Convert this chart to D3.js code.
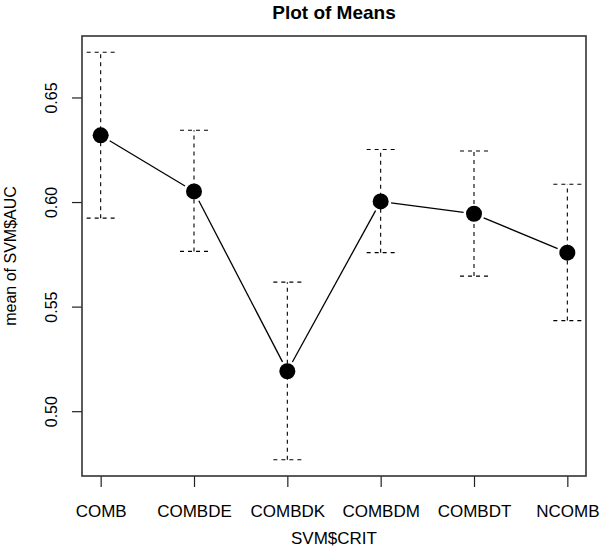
<!DOCTYPE html>
<html>
<head>
<meta charset="utf-8">
<script src="https://cdn.jsdelivr.net/npm/d3@7"></script>
<style>
  html, body { margin: 0; padding: 0; background: #fff; }
  svg { display: block; font-family: "Liberation Sans", Arial, Helvetica, sans-serif; }
</style>
</head>
<body>
<svg id="chart" width="600" height="551"></svg>
<script>
const categories = ["COMB", "COMBDE", "COMBDK", "COMBDM", "COMBDT", "NCOMB"];
const means      = [0.6319, 0.6051, 0.5191, 0.6003, 0.5944, 0.5758];
const upper      = [0.6716, 0.6343, 0.5617, 0.6251, 0.6244, 0.6085];
const lower      = [0.5923, 0.5764, 0.4768, 0.5758, 0.5646, 0.5433];
const yTicks     = [0.50, 0.55, 0.60, 0.65];
const title = "Plot of Means";
const xTitle = "SVM$CRIT";
const yTitle = "mean of SVM$AUC";

const svg = d3.select("#chart");
const plot = { left: 82, right: 586, top: 36, bottom: 476 };

// R-style 4% axis extension
const n = categories.length;
const x = d3.scaleLinear().domain([1 - 0.04 * (n - 1), n + 0.04 * (n - 1)]).range([plot.left, plot.right]);
const yMin = d3.min(lower), yMax = d3.max(upper), ext = 0.04 * (yMax - yMin);
const y = d3.scaleLinear().domain([yMin - ext, yMax + ext]).range([plot.bottom, plot.top]);

const data = categories.map((c, i) => ({ c, i: i + 1, m: means[i], u: upper[i], l: lower[i] }));

// Axes
const xAxis = d3.axisBottom(x).tickValues(data.map(d => d.i)).tickFormat(v => categories[v - 1]).tickSize(11).tickSizeOuter(0);
const gx = svg.append("g").attr("transform", `translate(0,${plot.bottom})`).call(xAxis);
gx.select(".domain").remove();
gx.selectAll("line").attr("stroke", "#222").attr("stroke-width", 1.2);
gx.selectAll("text").attr("fill", "#000").attr("font-size", 17).attr("font-family", "Liberation Sans, Arial, sans-serif")
  .attr("dy", null).attr("y", 41);

const yAxis = d3.axisLeft(y).tickValues(yTicks).tickFormat(d3.format(".2f")).tickSize(10).tickSizeOuter(0);
const gy = svg.append("g").attr("transform", `translate(${plot.left},0)`).call(yAxis);
gy.select(".domain").remove();
gy.selectAll("line").attr("stroke", "#222").attr("stroke-width", 1.2);
gy.selectAll("text").attr("fill", "#000").attr("font-size", 16).attr("font-family", "Liberation Sans, Arial, sans-serif")
  .attr("x", null).attr("dy", null)
  .attr("text-anchor", "middle")
  .attr("transform", "translate(-25.5,0) rotate(-90)");

// Box
svg.append("rect").attr("x", plot.left).attr("y", plot.top)
  .attr("width", plot.right - plot.left).attr("height", plot.bottom - plot.top)
  .attr("fill", "none").attr("stroke", "#333").attr("stroke-width", 1.6);

// Error bars (dashed)
const eb = svg.append("g").attr("stroke", "#000").attr("stroke-width", 1.1).attr("stroke-dasharray", "4,4").attr("fill", "none");
const capW = 14;
data.forEach(d => {
  eb.append("line").attr("x1", x(d.i)).attr("x2", x(d.i)).attr("y1", y(d.l)).attr("y2", y(d.u));
  eb.append("line").attr("x1", x(d.i) - capW).attr("x2", x(d.i) + capW).attr("y1", y(d.u)).attr("y2", y(d.u));
  eb.append("line").attr("x1", x(d.i) - capW).attr("x2", x(d.i) + capW).attr("y1", y(d.l)).attr("y2", y(d.l));
});

// Connecting line with gaps around points (type = "b")
const gap = 10.5;
const lg = svg.append("g").attr("stroke", "#000").attr("stroke-width", 1.3);
for (let k = 0; k < data.length - 1; k++) {
  const x1 = x(data[k].i), y1 = y(data[k].m), x2 = x(data[k + 1].i), y2 = y(data[k + 1].m);
  const len = Math.hypot(x2 - x1, y2 - y1), ux = (x2 - x1) / len, uy = (y2 - y1) / len;
  lg.append("line").attr("x1", x1 + ux * gap).attr("y1", y1 + uy * gap)
    .attr("x2", x2 - ux * gap).attr("y2", y2 - uy * gap);
}

// Points
svg.append("g").selectAll("circle").data(data).join("circle")
  .attr("cx", d => x(d.i)).attr("cy", d => y(d.m)).attr("r", 8).attr("fill", "#000");

// Titles
svg.append("text").attr("x", (plot.left + plot.right) / 2).attr("y", 19).attr("text-anchor", "middle")
  .attr("font-weight", "bold").attr("font-size", 19).text(title);
svg.append("text").attr("x", (plot.left + plot.right) / 2).attr("y", 544).attr("text-anchor", "middle")
  .attr("font-size", 17).text(xTitle);
svg.append("text").attr("transform", `translate(15.5,${(plot.top + plot.bottom) / 2}) rotate(-90)`)
  .attr("text-anchor", "middle").attr("font-size", 16).text(yTitle);
</script>
</body>
</html>
